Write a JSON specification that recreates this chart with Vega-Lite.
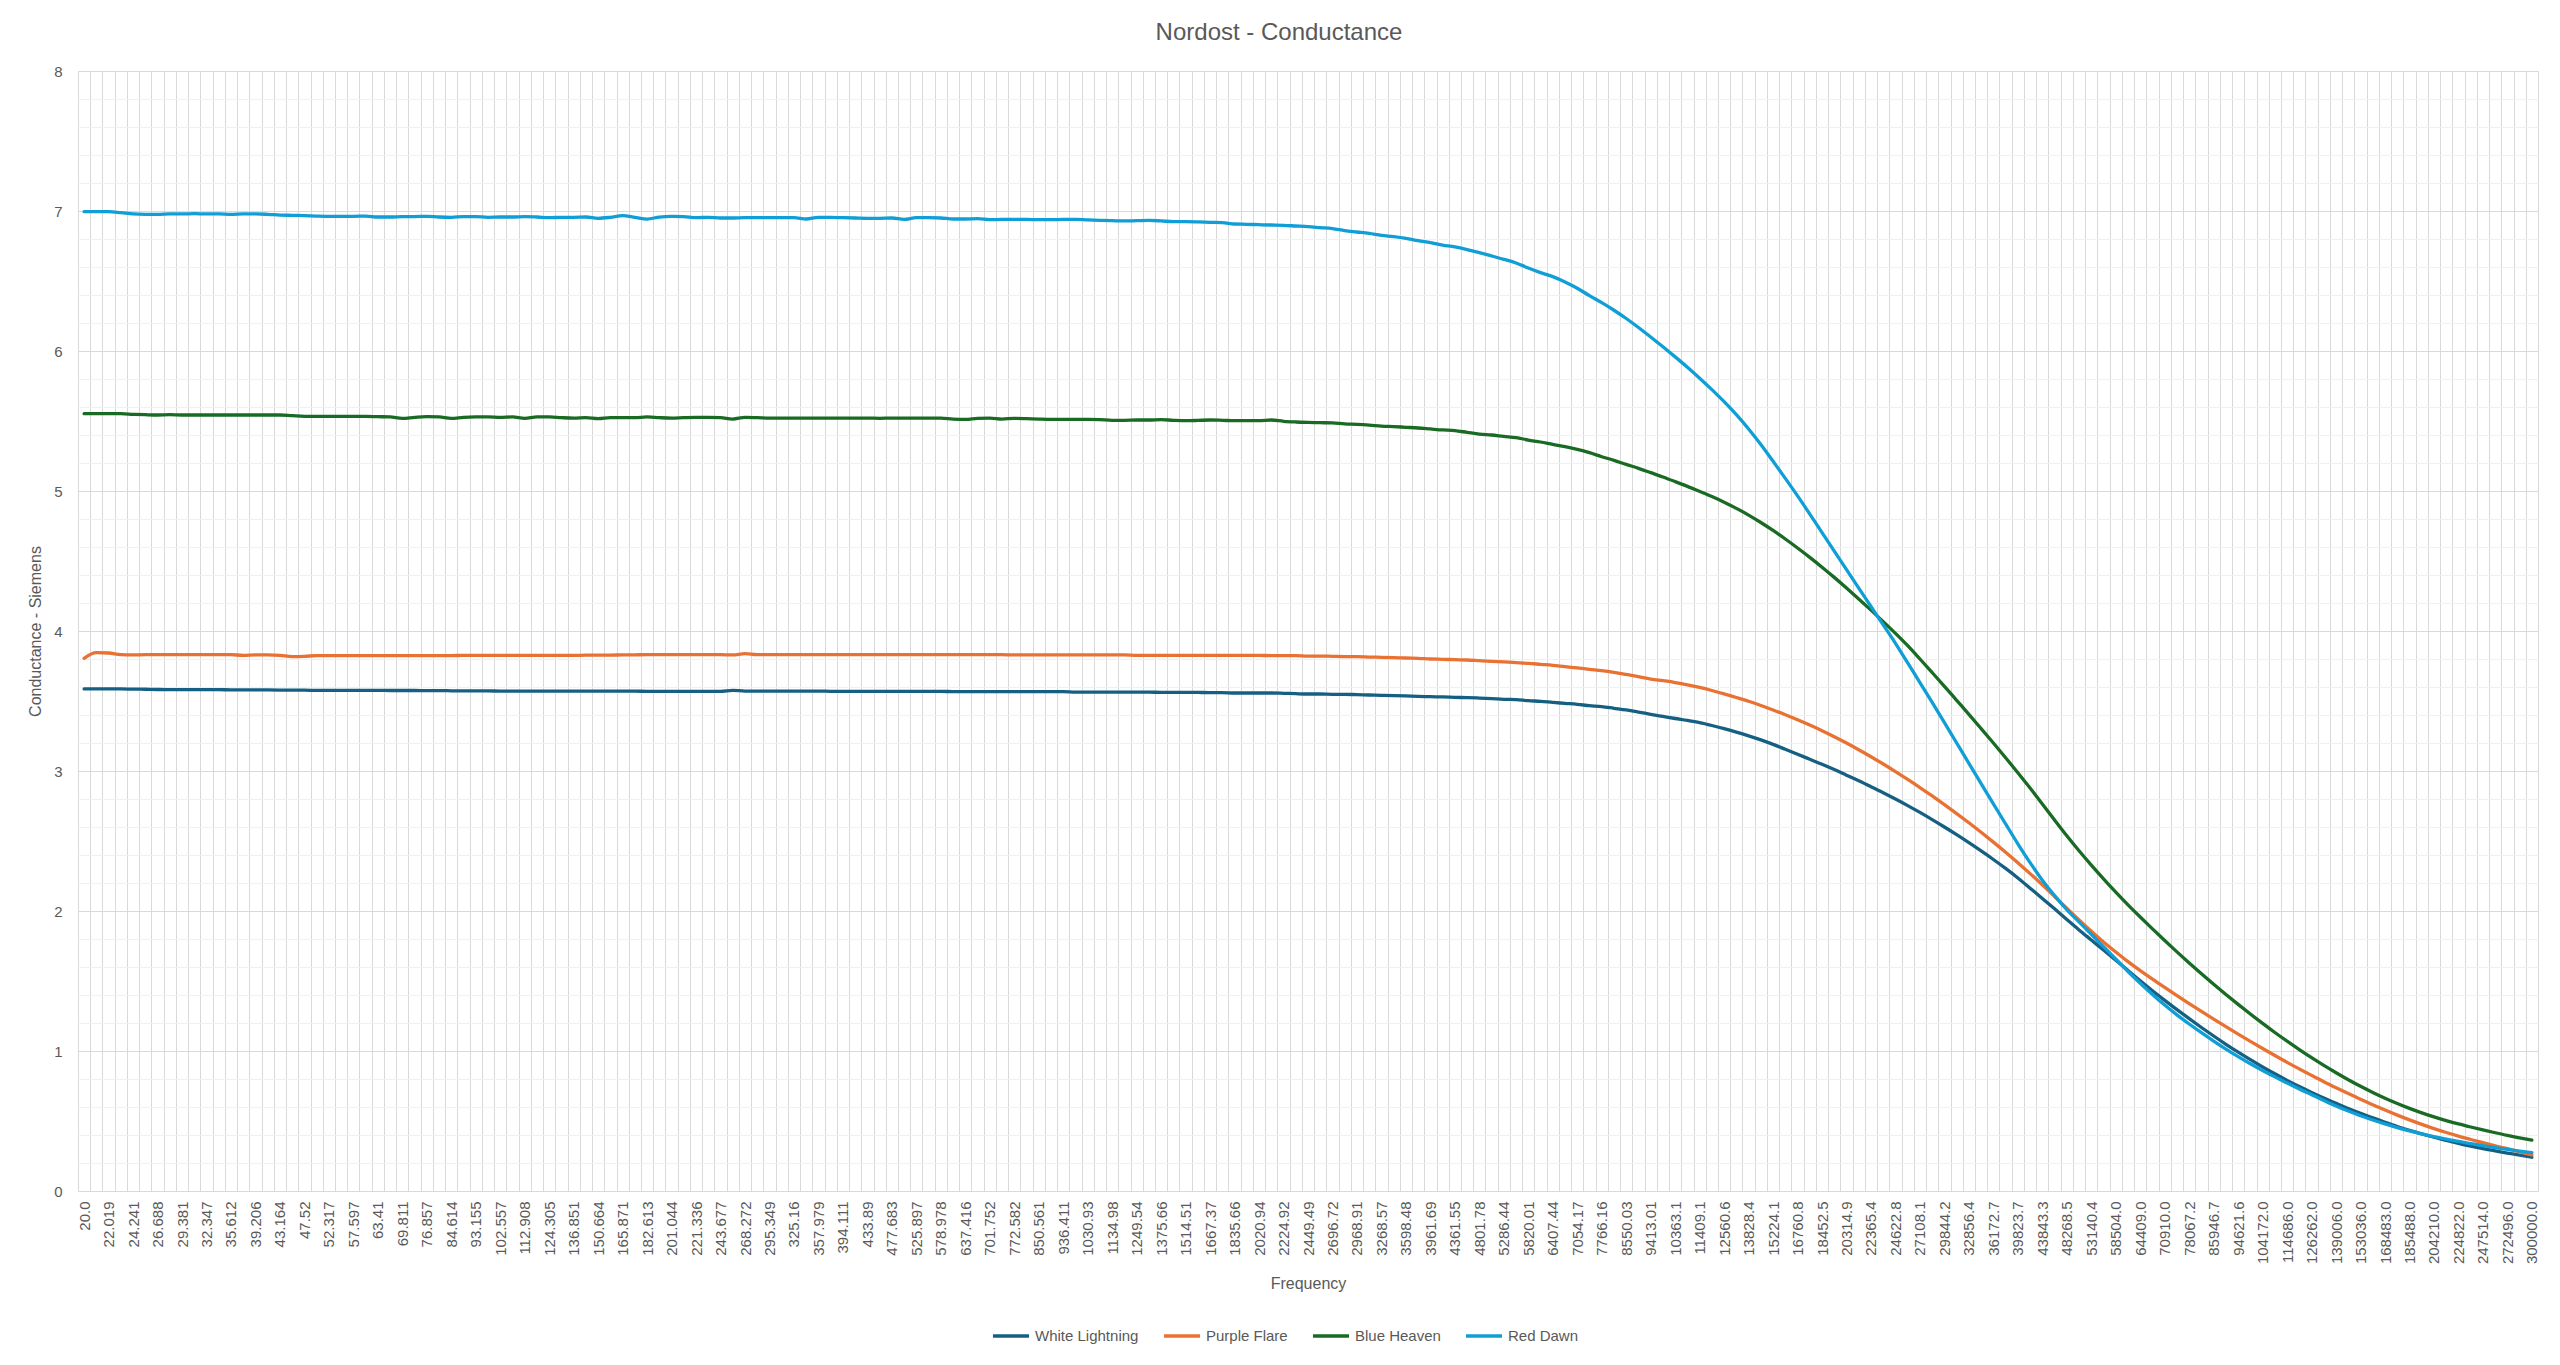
{
  "$schema": "https://vega.github.io/schema/vega-lite/v6.json",
  "width": 2460,
  "height": 1120,
  "autosize": "none",
  "padding": {"left": 78, "top": 71, "right": 22, "bottom": 174},
  "background": "white",
  "config": {"font": "Liberation Sans", "view": {"stroke": null}},
  "title": {"text": "Nordost - Conductance", "fontSize": 24, "fontWeight": "normal", "color": "#595959", "offset": 19, "dx": -29, "anchor": "middle"},
  "data": {"values": [
    {"f":"20.0","White Lightning":3.586,"Purple Flare":3.805,"Blue Heaven":5.552,"Red Dawn":6.995},
    {"f":"20.985","White Lightning":3.586,"Purple Flare":3.845,"Blue Heaven":5.552,"Red Dawn":6.995},
    {"f":"22.019","White Lightning":3.586,"Purple Flare":3.843,"Blue Heaven":5.552,"Red Dawn":6.995},
    {"f":"23.104","White Lightning":3.586,"Purple Flare":3.831,"Blue Heaven":5.552,"Red Dawn":6.988},
    {"f":"24.241","White Lightning":3.585,"Purple Flare":3.829,"Blue Heaven":5.548,"Red Dawn":6.979},
    {"f":"25.435","White Lightning":3.584,"Purple Flare":3.831,"Blue Heaven":5.545,"Red Dawn":6.976},
    {"f":"26.688","White Lightning":3.582,"Purple Flare":3.831,"Blue Heaven":5.543,"Red Dawn":6.976},
    {"f":"28.003","White Lightning":3.581,"Purple Flare":3.831,"Blue Heaven":5.545,"Red Dawn":6.979},
    {"f":"29.381","White Lightning":3.581,"Purple Flare":3.831,"Blue Heaven":5.543,"Red Dawn":6.979},
    {"f":"30.828","White Lightning":3.581,"Purple Flare":3.831,"Blue Heaven":5.543,"Red Dawn":6.981},
    {"f":"32.347","White Lightning":3.581,"Purple Flare":3.831,"Blue Heaven":5.543,"Red Dawn":6.979},
    {"f":"33.940","White Lightning":3.581,"Purple Flare":3.831,"Blue Heaven":5.543,"Red Dawn":6.979},
    {"f":"35.612","White Lightning":3.58,"Purple Flare":3.831,"Blue Heaven":5.543,"Red Dawn":6.976},
    {"f":"37.366","White Lightning":3.58,"Purple Flare":3.826,"Blue Heaven":5.543,"Red Dawn":6.979},
    {"f":"39.206","White Lightning":3.58,"Purple Flare":3.829,"Blue Heaven":5.543,"Red Dawn":6.979},
    {"f":"41.137","White Lightning":3.579,"Purple Flare":3.829,"Blue Heaven":5.543,"Red Dawn":6.976},
    {"f":"43.164","White Lightning":3.578,"Purple Flare":3.826,"Blue Heaven":5.543,"Red Dawn":6.971},
    {"f":"45.290","White Lightning":3.577,"Purple Flare":3.817,"Blue Heaven":5.538,"Red Dawn":6.969},
    {"f":"47.52","White Lightning":3.577,"Purple Flare":3.819,"Blue Heaven":5.533,"Red Dawn":6.967},
    {"f":"49.861","White Lightning":3.576,"Purple Flare":3.824,"Blue Heaven":5.533,"Red Dawn":6.964},
    {"f":"52.317","White Lightning":3.576,"Purple Flare":3.824,"Blue Heaven":5.533,"Red Dawn":6.962},
    {"f":"54.894","White Lightning":3.576,"Purple Flare":3.824,"Blue Heaven":5.533,"Red Dawn":6.962},
    {"f":"57.597","White Lightning":3.576,"Purple Flare":3.824,"Blue Heaven":5.533,"Red Dawn":6.962},
    {"f":"60.434","White Lightning":3.576,"Purple Flare":3.824,"Blue Heaven":5.533,"Red Dawn":6.964},
    {"f":"63.41","White Lightning":3.576,"Purple Flare":3.824,"Blue Heaven":5.531,"Red Dawn":6.957},
    {"f":"66.533","White Lightning":3.575,"Purple Flare":3.824,"Blue Heaven":5.529,"Red Dawn":6.957},
    {"f":"69.811","White Lightning":3.575,"Purple Flare":3.824,"Blue Heaven":5.519,"Red Dawn":6.96},
    {"f":"73.249","White Lightning":3.575,"Purple Flare":3.824,"Blue Heaven":5.526,"Red Dawn":6.96},
    {"f":"76.857","White Lightning":3.574,"Purple Flare":3.824,"Blue Heaven":5.531,"Red Dawn":6.962},
    {"f":"80.643","White Lightning":3.574,"Purple Flare":3.824,"Blue Heaven":5.529,"Red Dawn":6.957},
    {"f":"84.614","White Lightning":3.573,"Purple Flare":3.824,"Blue Heaven":5.519,"Red Dawn":6.955},
    {"f":"88.782","White Lightning":3.572,"Purple Flare":3.826,"Blue Heaven":5.526,"Red Dawn":6.96},
    {"f":"93.155","White Lightning":3.572,"Purple Flare":3.826,"Blue Heaven":5.529,"Red Dawn":6.96},
    {"f":"97.743","White Lightning":3.572,"Purple Flare":3.826,"Blue Heaven":5.529,"Red Dawn":6.955},
    {"f":"102.557","White Lightning":3.571,"Purple Flare":3.826,"Blue Heaven":5.526,"Red Dawn":6.957},
    {"f":"107.608","White Lightning":3.571,"Purple Flare":3.826,"Blue Heaven":5.529,"Red Dawn":6.957},
    {"f":"112.908","White Lightning":3.571,"Purple Flare":3.826,"Blue Heaven":5.519,"Red Dawn":6.96},
    {"f":"118.469","White Lightning":3.571,"Purple Flare":3.826,"Blue Heaven":5.529,"Red Dawn":6.957},
    {"f":"124.305","White Lightning":3.571,"Purple Flare":3.826,"Blue Heaven":5.529,"Red Dawn":6.952},
    {"f":"130.428","White Lightning":3.571,"Purple Flare":3.826,"Blue Heaven":5.524,"Red Dawn":6.955},
    {"f":"136.851","White Lightning":3.571,"Purple Flare":3.826,"Blue Heaven":5.521,"Red Dawn":6.955},
    {"f":"143.591","White Lightning":3.571,"Purple Flare":3.827,"Blue Heaven":5.524,"Red Dawn":6.957},
    {"f":"150.664","White Lightning":3.571,"Purple Flare":3.827,"Blue Heaven":5.517,"Red Dawn":6.948},
    {"f":"158.085","White Lightning":3.571,"Purple Flare":3.828,"Blue Heaven":5.524,"Red Dawn":6.955},
    {"f":"165.871","White Lightning":3.57,"Purple Flare":3.829,"Blue Heaven":5.524,"Red Dawn":6.967},
    {"f":"174.041","White Lightning":3.57,"Purple Flare":3.83,"Blue Heaven":5.524,"Red Dawn":6.955},
    {"f":"182.613","White Lightning":3.569,"Purple Flare":3.831,"Blue Heaven":5.529,"Red Dawn":6.942},
    {"f":"191.607","White Lightning":3.569,"Purple Flare":3.831,"Blue Heaven":5.524,"Red Dawn":6.957},
    {"f":"201.044","White Lightning":3.569,"Purple Flare":3.831,"Blue Heaven":5.521,"Red Dawn":6.962},
    {"f":"210.946","White Lightning":3.569,"Purple Flare":3.831,"Blue Heaven":5.524,"Red Dawn":6.96},
    {"f":"221.336","White Lightning":3.569,"Purple Flare":3.831,"Blue Heaven":5.526,"Red Dawn":6.952},
    {"f":"232.238","White Lightning":3.569,"Purple Flare":3.831,"Blue Heaven":5.526,"Red Dawn":6.955},
    {"f":"243.677","White Lightning":3.569,"Purple Flare":3.831,"Blue Heaven":5.524,"Red Dawn":6.95},
    {"f":"255.679","White Lightning":3.576,"Purple Flare":3.829,"Blue Heaven":5.514,"Red Dawn":6.95},
    {"f":"268.272","White Lightning":3.571,"Purple Flare":3.838,"Blue Heaven":5.526,"Red Dawn":6.952},
    {"f":"281.486","White Lightning":3.571,"Purple Flare":3.831,"Blue Heaven":5.524,"Red Dawn":6.952},
    {"f":"295.349","White Lightning":3.571,"Purple Flare":3.831,"Blue Heaven":5.521,"Red Dawn":6.952},
    {"f":"309.896","White Lightning":3.571,"Purple Flare":3.831,"Blue Heaven":5.521,"Red Dawn":6.952},
    {"f":"325.16","White Lightning":3.571,"Purple Flare":3.831,"Blue Heaven":5.521,"Red Dawn":6.952},
    {"f":"341.175","White Lightning":3.571,"Purple Flare":3.831,"Blue Heaven":5.521,"Red Dawn":6.943},
    {"f":"357.979","White Lightning":3.571,"Purple Flare":3.831,"Blue Heaven":5.521,"Red Dawn":6.955},
    {"f":"375.611","White Lightning":3.569,"Purple Flare":3.831,"Blue Heaven":5.521,"Red Dawn":6.955},
    {"f":"394.111","White Lightning":3.569,"Purple Flare":3.831,"Blue Heaven":5.521,"Red Dawn":6.952},
    {"f":"413.523","White Lightning":3.569,"Purple Flare":3.831,"Blue Heaven":5.521,"Red Dawn":6.95},
    {"f":"433.89","White Lightning":3.569,"Purple Flare":3.831,"Blue Heaven":5.521,"Red Dawn":6.948},
    {"f":"455.261","White Lightning":3.569,"Purple Flare":3.831,"Blue Heaven":5.519,"Red Dawn":6.948},
    {"f":"477.683","White Lightning":3.569,"Purple Flare":3.831,"Blue Heaven":5.521,"Red Dawn":6.95},
    {"f":"501.211","White Lightning":3.569,"Purple Flare":3.831,"Blue Heaven":5.521,"Red Dawn":6.94},
    {"f":"525.897","White Lightning":3.569,"Purple Flare":3.831,"Blue Heaven":5.521,"Red Dawn":6.952},
    {"f":"551.800","White Lightning":3.569,"Purple Flare":3.831,"Blue Heaven":5.521,"Red Dawn":6.952},
    {"f":"578.978","White Lightning":3.569,"Purple Flare":3.831,"Blue Heaven":5.521,"Red Dawn":6.95},
    {"f":"607.495","White Lightning":3.567,"Purple Flare":3.831,"Blue Heaven":5.514,"Red Dawn":6.943},
    {"f":"637.416","White Lightning":3.567,"Purple Flare":3.831,"Blue Heaven":5.512,"Red Dawn":6.943},
    {"f":"668.812","White Lightning":3.567,"Purple Flare":3.831,"Blue Heaven":5.519,"Red Dawn":6.945},
    {"f":"701.752","White Lightning":3.567,"Purple Flare":3.831,"Blue Heaven":5.521,"Red Dawn":6.938},
    {"f":"736.316","White Lightning":3.567,"Purple Flare":3.831,"Blue Heaven":5.514,"Red Dawn":6.94},
    {"f":"772.582","White Lightning":3.567,"Purple Flare":3.829,"Blue Heaven":5.519,"Red Dawn":6.94},
    {"f":"810.635","White Lightning":3.567,"Purple Flare":3.829,"Blue Heaven":5.517,"Red Dawn":6.94},
    {"f":"850.561","White Lightning":3.567,"Purple Flare":3.829,"Blue Heaven":5.514,"Red Dawn":6.938},
    {"f":"892.455","White Lightning":3.567,"Purple Flare":3.829,"Blue Heaven":5.512,"Red Dawn":6.938},
    {"f":"936.411","White Lightning":3.567,"Purple Flare":3.829,"Blue Heaven":5.512,"Red Dawn":6.94},
    {"f":"982.533","White Lightning":3.564,"Purple Flare":3.829,"Blue Heaven":5.512,"Red Dawn":6.94},
    {"f":"1030.93","White Lightning":3.564,"Purple Flare":3.829,"Blue Heaven":5.512,"Red Dawn":6.936},
    {"f":"1081.71","White Lightning":3.564,"Purple Flare":3.829,"Blue Heaven":5.51,"Red Dawn":6.933},
    {"f":"1134.98","White Lightning":3.564,"Purple Flare":3.829,"Blue Heaven":5.505,"Red Dawn":6.931},
    {"f":"1190.88","White Lightning":3.563,"Purple Flare":3.829,"Blue Heaven":5.505,"Red Dawn":6.929},
    {"f":"1249.54","White Lightning":3.563,"Purple Flare":3.826,"Blue Heaven":5.507,"Red Dawn":6.931},
    {"f":"1311.09","White Lightning":3.563,"Purple Flare":3.826,"Blue Heaven":5.507,"Red Dawn":6.933},
    {"f":"1375.66","White Lightning":3.562,"Purple Flare":3.826,"Blue Heaven":5.51,"Red Dawn":6.929},
    {"f":"1443.42","White Lightning":3.562,"Purple Flare":3.826,"Blue Heaven":5.505,"Red Dawn":6.924},
    {"f":"1514.51","White Lightning":3.562,"Purple Flare":3.826,"Blue Heaven":5.502,"Red Dawn":6.924},
    {"f":"1589.10","White Lightning":3.561,"Purple Flare":3.826,"Blue Heaven":5.504,"Red Dawn":6.922},
    {"f":"1667.37","White Lightning":3.56,"Purple Flare":3.826,"Blue Heaven":5.507,"Red Dawn":6.919},
    {"f":"1749.49","White Lightning":3.56,"Purple Flare":3.826,"Blue Heaven":5.505,"Red Dawn":6.917},
    {"f":"1835.66","White Lightning":3.557,"Purple Flare":3.826,"Blue Heaven":5.502,"Red Dawn":6.907},
    {"f":"1926.08","White Lightning":3.557,"Purple Flare":3.826,"Blue Heaven":5.502,"Red Dawn":6.905},
    {"f":"2020.94","White Lightning":3.557,"Purple Flare":3.826,"Blue Heaven":5.502,"Red Dawn":6.902},
    {"f":"2120.48","White Lightning":3.557,"Purple Flare":3.824,"Blue Heaven":5.507,"Red Dawn":6.9},
    {"f":"2224.92","White Lightning":3.555,"Purple Flare":3.824,"Blue Heaven":5.498,"Red Dawn":6.898},
    {"f":"2334.51","White Lightning":3.552,"Purple Flare":3.824,"Blue Heaven":5.493,"Red Dawn":6.893},
    {"f":"2449.49","White Lightning":3.55,"Purple Flare":3.821,"Blue Heaven":5.49,"Red Dawn":6.888},
    {"f":"2570.14","White Lightning":3.55,"Purple Flare":3.821,"Blue Heaven":5.488,"Red Dawn":6.881},
    {"f":"2696.72","White Lightning":3.548,"Purple Flare":3.819,"Blue Heaven":5.486,"Red Dawn":6.874},
    {"f":"2829.55","White Lightning":3.548,"Purple Flare":3.817,"Blue Heaven":5.479,"Red Dawn":6.86},
    {"f":"2968.91","White Lightning":3.545,"Purple Flare":3.817,"Blue Heaven":5.476,"Red Dawn":6.85},
    {"f":"3115.14","White Lightning":3.543,"Purple Flare":3.814,"Blue Heaven":5.471,"Red Dawn":6.84},
    {"f":"3268.57","White Lightning":3.54,"Purple Flare":3.812,"Blue Heaven":5.464,"Red Dawn":6.826},
    {"f":"3429.56","White Lightning":3.538,"Purple Flare":3.81,"Blue Heaven":5.46,"Red Dawn":6.817},
    {"f":"3598.48","White Lightning":3.536,"Purple Flare":3.807,"Blue Heaven":5.455,"Red Dawn":6.805},
    {"f":"3775.72","White Lightning":3.533,"Purple Flare":3.805,"Blue Heaven":5.45,"Red Dawn":6.788},
    {"f":"3961.69","White Lightning":3.531,"Purple Flare":3.8,"Blue Heaven":5.443,"Red Dawn":6.774},
    {"f":"4156.82","White Lightning":3.529,"Purple Flare":3.798,"Blue Heaven":5.436,"Red Dawn":6.757},
    {"f":"4361.55","White Lightning":3.526,"Purple Flare":3.795,"Blue Heaven":5.431,"Red Dawn":6.743},
    {"f":"4576.38","White Lightning":3.524,"Purple Flare":3.793,"Blue Heaven":5.419,"Red Dawn":6.724},
    {"f":"4801.78","White Lightning":3.521,"Purple Flare":3.788,"Blue Heaven":5.407,"Red Dawn":6.702},
    {"f":"5038.29","White Lightning":3.517,"Purple Flare":3.783,"Blue Heaven":5.4,"Red Dawn":6.679},
    {"f":"5286.44","White Lightning":3.512,"Purple Flare":3.779,"Blue Heaven":5.39,"Red Dawn":6.655},
    {"f":"5546.82","White Lightning":3.51,"Purple Flare":3.774,"Blue Heaven":5.381,"Red Dawn":6.629},
    {"f":"5820.01","White Lightning":3.502,"Purple Flare":3.769,"Blue Heaven":5.364,"Red Dawn":6.593},
    {"f":"6106.67","White Lightning":3.498,"Purple Flare":3.762,"Blue Heaven":5.35,"Red Dawn":6.56},
    {"f":"6407.44","White Lightning":3.49,"Purple Flare":3.755,"Blue Heaven":5.333,"Red Dawn":6.531},
    {"f":"6723.03","White Lightning":3.483,"Purple Flare":3.745,"Blue Heaven":5.317,"Red Dawn":6.493},
    {"f":"7054.17","White Lightning":3.476,"Purple Flare":3.736,"Blue Heaven":5.298,"Red Dawn":6.448},
    {"f":"7401.62","White Lightning":3.467,"Purple Flare":3.726,"Blue Heaven":5.274,"Red Dawn":6.395},
    {"f":"7766.16","White Lightning":3.46,"Purple Flare":3.717,"Blue Heaven":5.245,"Red Dawn":6.345},
    {"f":"8148.67","White Lightning":3.448,"Purple Flare":3.705,"Blue Heaven":5.219,"Red Dawn":6.291},
    {"f":"8550.03","White Lightning":3.436,"Purple Flare":3.69,"Blue Heaven":5.19,"Red Dawn":6.232},
    {"f":"8971.16","White Lightning":3.421,"Purple Flare":3.674,"Blue Heaven":5.162,"Red Dawn":6.168},
    {"f":"9413.01","White Lightning":3.405,"Purple Flare":3.657,"Blue Heaven":5.131,"Red Dawn":6.1},
    {"f":"9876.64","White Lightning":3.39,"Purple Flare":3.645,"Blue Heaven":5.1,"Red Dawn":6.03},
    {"f":"10363.1","White Lightning":3.375,"Purple Flare":3.632,"Blue Heaven":5.067,"Red Dawn":5.958},
    {"f":"10873.5","White Lightning":3.361,"Purple Flare":3.616,"Blue Heaven":5.033,"Red Dawn":5.884},
    {"f":"11409.1","White Lightning":3.345,"Purple Flare":3.597,"Blue Heaven":4.997,"Red Dawn":5.806},
    {"f":"11971.1","White Lightning":3.325,"Purple Flare":3.575,"Blue Heaven":4.96,"Red Dawn":5.724},
    {"f":"12560.6","White Lightning":3.303,"Purple Flare":3.551,"Blue Heaven":4.92,"Red Dawn":5.638},
    {"f":"13179.3","White Lightning":3.278,"Purple Flare":3.525,"Blue Heaven":4.876,"Red Dawn":5.545},
    {"f":"13828.4","White Lightning":3.251,"Purple Flare":3.498,"Blue Heaven":4.828,"Red Dawn":5.443},
    {"f":"14509.5","White Lightning":3.222,"Purple Flare":3.468,"Blue Heaven":4.775,"Red Dawn":5.332},
    {"f":"15224.1","White Lightning":3.19,"Purple Flare":3.436,"Blue Heaven":4.718,"Red Dawn":5.212},
    {"f":"15973.9","White Lightning":3.155,"Purple Flare":3.402,"Blue Heaven":4.657,"Red Dawn":5.09},
    {"f":"16760.8","White Lightning":3.12,"Purple Flare":3.366,"Blue Heaven":4.593,"Red Dawn":4.965},
    {"f":"17586.3","White Lightning":3.084,"Purple Flare":3.328,"Blue Heaven":4.526,"Red Dawn":4.835},
    {"f":"18452.5","White Lightning":3.048,"Purple Flare":3.288,"Blue Heaven":4.456,"Red Dawn":4.703},
    {"f":"19361.3","White Lightning":3.01,"Purple Flare":3.245,"Blue Heaven":4.383,"Red Dawn":4.571},
    {"f":"20314.9","White Lightning":2.97,"Purple Flare":3.2,"Blue Heaven":4.307,"Red Dawn":4.438},
    {"f":"21315.4","White Lightning":2.93,"Purple Flare":3.152,"Blue Heaven":4.229,"Red Dawn":4.306},
    {"f":"22365.4","White Lightning":2.888,"Purple Flare":3.102,"Blue Heaven":4.149,"Red Dawn":4.175},
    {"f":"23467.0","White Lightning":2.845,"Purple Flare":3.05,"Blue Heaven":4.067,"Red Dawn":4.044},
    {"f":"24622.8","White Lightning":2.8,"Purple Flare":2.996,"Blue Heaven":3.983,"Red Dawn":3.912},
    {"f":"25835.5","White Lightning":2.753,"Purple Flare":2.94,"Blue Heaven":3.895,"Red Dawn":3.772},
    {"f":"27108.1","White Lightning":2.704,"Purple Flare":2.882,"Blue Heaven":3.8,"Red Dawn":3.632},
    {"f":"28443.2","White Lightning":2.653,"Purple Flare":2.822,"Blue Heaven":3.703,"Red Dawn":3.49},
    {"f":"29844.2","White Lightning":2.6,"Purple Flare":2.76,"Blue Heaven":3.605,"Red Dawn":3.345},
    {"f":"31314.1","White Lightning":2.545,"Purple Flare":2.696,"Blue Heaven":3.505,"Red Dawn":3.2},
    {"f":"32856.4","White Lightning":2.488,"Purple Flare":2.63,"Blue Heaven":3.405,"Red Dawn":3.055},
    {"f":"34474.6","White Lightning":2.429,"Purple Flare":2.562,"Blue Heaven":3.303,"Red Dawn":2.91},
    {"f":"36172.7","White Lightning":2.368,"Purple Flare":2.492,"Blue Heaven":3.2,"Red Dawn":2.765},
    {"f":"37954.3","White Lightning":2.304,"Purple Flare":2.42,"Blue Heaven":3.095,"Red Dawn":2.622},
    {"f":"39823.7","White Lightning":2.236,"Purple Flare":2.345,"Blue Heaven":2.988,"Red Dawn":2.48},
    {"f":"41785.1","White Lightning":2.163,"Purple Flare":2.267,"Blue Heaven":2.878,"Red Dawn":2.345},
    {"f":"43843.3","White Lightning":2.09,"Purple Flare":2.187,"Blue Heaven":2.765,"Red Dawn":2.22},
    {"f":"46002.6","White Lightning":2.016,"Purple Flare":2.104,"Blue Heaven":2.65,"Red Dawn":2.11},
    {"f":"48268.5","White Lightning":1.94,"Purple Flare":2.02,"Blue Heaven":2.537,"Red Dawn":2.01},
    {"f":"50645.8","White Lightning":1.865,"Purple Flare":1.936,"Blue Heaven":2.43,"Red Dawn":1.922},
    {"f":"53140.4","White Lightning":1.793,"Purple Flare":1.856,"Blue Heaven":2.328,"Red Dawn":1.834},
    {"f":"55757.6","White Lightning":1.721,"Purple Flare":1.779,"Blue Heaven":2.23,"Red Dawn":1.745},
    {"f":"58504.0","White Lightning":1.649,"Purple Flare":1.707,"Blue Heaven":2.135,"Red Dawn":1.657},
    {"f":"61385.4","White Lightning":1.575,"Purple Flare":1.638,"Blue Heaven":2.044,"Red Dawn":1.568},
    {"f":"64409.0","White Lightning":1.501,"Purple Flare":1.574,"Blue Heaven":1.957,"Red Dawn":1.484},
    {"f":"67581.3","White Lightning":1.43,"Purple Flare":1.513,"Blue Heaven":1.872,"Red Dawn":1.404},
    {"f":"70910.0","White Lightning":1.362,"Purple Flare":1.454,"Blue Heaven":1.789,"Red Dawn":1.328},
    {"f":"74402.4","White Lightning":1.296,"Purple Flare":1.396,"Blue Heaven":1.708,"Red Dawn":1.258},
    {"f":"78067.2","White Lightning":1.231,"Purple Flare":1.339,"Blue Heaven":1.629,"Red Dawn":1.193},
    {"f":"81912.1","White Lightning":1.168,"Purple Flare":1.283,"Blue Heaven":1.552,"Red Dawn":1.131},
    {"f":"85946.7","White Lightning":1.107,"Purple Flare":1.228,"Blue Heaven":1.477,"Red Dawn":1.071},
    {"f":"90179.7","White Lightning":1.048,"Purple Flare":1.174,"Blue Heaven":1.404,"Red Dawn":1.014},
    {"f":"94621.6","White Lightning":0.992,"Purple Flare":1.121,"Blue Heaven":1.333,"Red Dawn":0.96},
    {"f":"99281.8","White Lightning":0.938,"Purple Flare":1.069,"Blue Heaven":1.264,"Red Dawn":0.909},
    {"f":"104172.0","White Lightning":0.886,"Purple Flare":1.018,"Blue Heaven":1.197,"Red Dawn":0.861},
    {"f":"109302.9","White Lightning":0.837,"Purple Flare":0.968,"Blue Heaven":1.132,"Red Dawn":0.815},
    {"f":"114686.0","White Lightning":0.79,"Purple Flare":0.919,"Blue Heaven":1.07,"Red Dawn":0.772},
    {"f":"120334.4","White Lightning":0.746,"Purple Flare":0.872,"Blue Heaven":1.01,"Red Dawn":0.729},
    {"f":"126262.0","White Lightning":0.704,"Purple Flare":0.826,"Blue Heaven":0.952,"Red Dawn":0.688},
    {"f":"132481.0","White Lightning":0.664,"Purple Flare":0.781,"Blue Heaven":0.897,"Red Dawn":0.647},
    {"f":"139006.0","White Lightning":0.626,"Purple Flare":0.738,"Blue Heaven":0.845,"Red Dawn":0.607},
    {"f":"145852.5","White Lightning":0.589,"Purple Flare":0.696,"Blue Heaven":0.795,"Red Dawn":0.571},
    {"f":"153036.0","White Lightning":0.555,"Purple Flare":0.655,"Blue Heaven":0.748,"Red Dawn":0.537},
    {"f":"160573.4","White Lightning":0.522,"Purple Flare":0.616,"Blue Heaven":0.704,"Red Dawn":0.507},
    {"f":"168483.0","White Lightning":0.491,"Purple Flare":0.578,"Blue Heaven":0.663,"Red Dawn":0.479},
    {"f":"176781.2","White Lightning":0.461,"Purple Flare":0.542,"Blue Heaven":0.625,"Red Dawn":0.453},
    {"f":"185488.0","White Lightning":0.433,"Purple Flare":0.508,"Blue Heaven":0.59,"Red Dawn":0.43},
    {"f":"194623.8","White Lightning":0.408,"Purple Flare":0.476,"Blue Heaven":0.558,"Red Dawn":0.408},
    {"f":"204210.0","White Lightning":0.384,"Purple Flare":0.446,"Blue Heaven":0.529,"Red Dawn":0.388},
    {"f":"214267.9","White Lightning":0.361,"Purple Flare":0.418,"Blue Heaven":0.503,"Red Dawn":0.37},
    {"f":"224822.0","White Lightning":0.34,"Purple Flare":0.392,"Blue Heaven":0.479,"Red Dawn":0.354},
    {"f":"235895.3","White Lightning":0.32,"Purple Flare":0.368,"Blue Heaven":0.457,"Red Dawn":0.338},
    {"f":"247514.0","White Lightning":0.302,"Purple Flare":0.345,"Blue Heaven":0.436,"Red Dawn":0.324},
    {"f":"259704.4","White Lightning":0.286,"Purple Flare":0.323,"Blue Heaven":0.416,"Red Dawn":0.31},
    {"f":"272496.0","White Lightning":0.271,"Purple Flare":0.302,"Blue Heaven":0.397,"Red Dawn":0.297},
    {"f":"285917.1","White Lightning":0.256,"Purple Flare":0.28,"Blue Heaven":0.38,"Red Dawn":0.285},
    {"f":"300000.0","White Lightning":0.241,"Purple Flare":0.258,"Blue Heaven":0.363,"Red Dawn":0.274}
  ]},
  "transform": [
    {"fold": ["White Lightning", "Purple Flare", "Blue Heaven", "Red Dawn"], "as": ["Cable", "Siemens"]}
  ],
  "layer": [
    {
      "data": {"values": [{}]},
      "mark": {"type": "rule", "opacity": 0},
      "encoding": {
        "y": {
          "datum": 0,
          "type": "quantitative",
          "scale": {"domain": [0, 8], "nice": false},
          "axis": {
            "orient": "left",
            "values": [0.2, 0.4, 0.6, 0.8, 1.2, 1.4, 1.6, 1.8, 2.2, 2.4, 2.6, 2.8, 3.2, 3.4, 3.6, 3.8, 4.2, 4.4, 4.6, 4.8, 5.2, 5.4, 5.6, 5.8, 6.2, 6.4, 6.6, 6.8, 7.2, 7.4, 7.6, 7.8],
            "grid": true,
            "gridColor": "#f0f0f0",
            "gridWidth": 1,
            "labels": false,
            "ticks": false,
            "domain": false,
            "title": null
          }
        }
      }
    },
    {
      "mark": {"type": "line", "strokeWidth": 3.3, "strokeCap": "round", "strokeJoin": "round", "interpolate": "monotone"},
      "encoding": {
        "x": {
          "field": "f",
          "type": "ordinal",
          "sort": null,
          "bandPosition": 0.5,
          "title": "Frequency",
          "scale": {"type": "band", "paddingInner": 0, "paddingOuter": 0},
          "axis": {
            "labelAngle": -90,
            "labelExpr": "indexof(domain('x'), datum.value) % 2 == 0 ? datum.label : ''",
            "labelOverlap": false,
            "tickBand": "extent",
            "grid": true,
            "gridColor": "#d9d9d9",
            "gridWidth": 1,
            "ticks": false,
            "domain": false,
            "labelFontSize": 15,
            "labelColor": "#595959",
            "labelPadding": 10,
            "titleFontSize": 16,
            "titleFontWeight": "normal",
            "titleColor": "#595959",
            "titlePadding": 12
          }
        },
        "y": {
          "field": "Siemens",
          "type": "quantitative",
          "scale": {"domain": [0, 8], "nice": false},
          "axis": {
            "orient": "left",
            "values": [0, 1, 2, 3, 4, 5, 6, 7, 8],
            "grid": true,
            "gridColor": "#d9d9d9",
            "gridWidth": 1,
            "ticks": false,
            "domain": false,
            "labelFontSize": 15,
            "labelColor": "#595959",
            "labelPadding": 16,
            "title": "Conductance - Siemens",
            "titleFontSize": 16,
            "titleFontWeight": "normal",
            "titleColor": "#595959",
            "titlePadding": 10
          }
        },
        "color": {
          "field": "Cable",
          "type": "nominal",
          "scale": {
            "domain": ["White Lightning", "Purple Flare", "Blue Heaven", "Red Dawn"],
            "range": ["#156082", "#E97132", "#196B24", "#0F9ED5"]
          },
          "legend": {
            "orient": "none",
            "legendX": 913,
            "legendY": 1245,
            "direction": "horizontal",
            "columns": 4,
            "title": null,
            "symbolType": "stroke",
            "symbolStrokeWidth": 3.5,
            "symbolSize": 1300,
            "labelFontSize": 15,
            "labelColor": "#595959",
            "labelOffset": 4,
            "columnPadding": 17
          }
        }
      }
    }
  ],
  "resolve": {"axis": {"y": "independent"}}
}
